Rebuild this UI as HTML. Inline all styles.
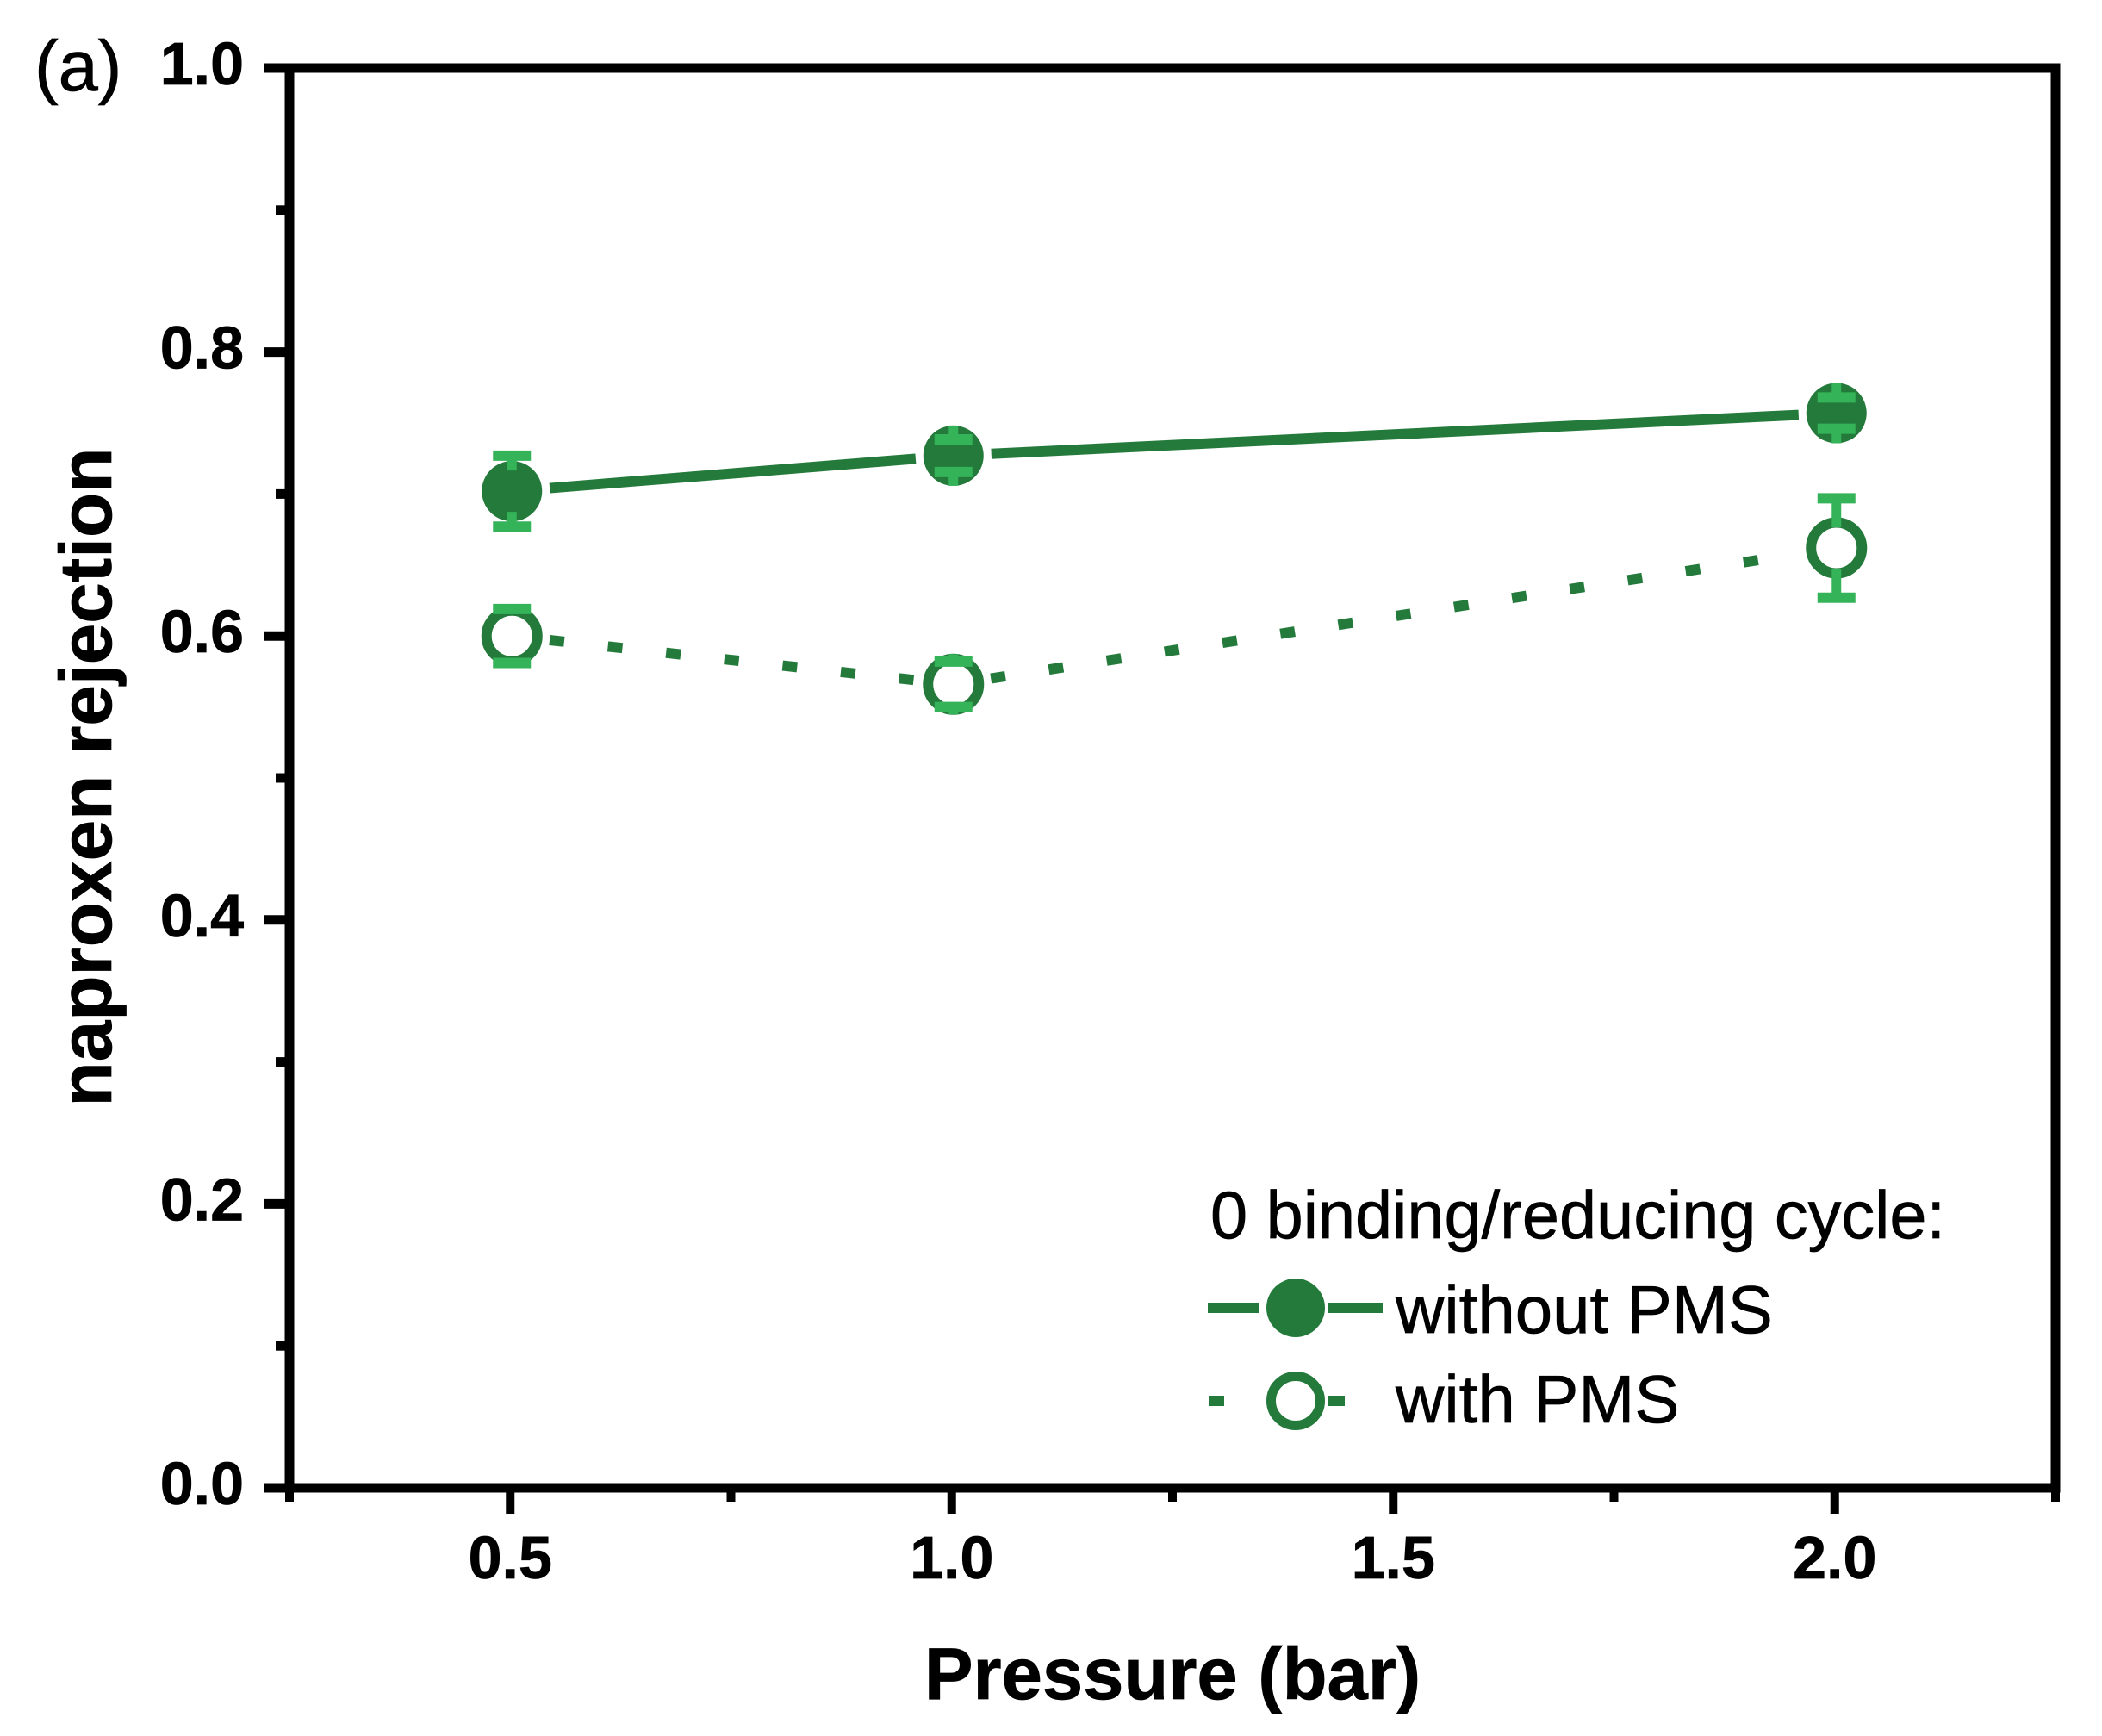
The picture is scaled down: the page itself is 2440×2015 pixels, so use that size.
<!DOCTYPE html>
<html lang="en">
<head>
<meta charset="utf-8">
<title>Naproxen rejection vs pressure</title>
<style>
html,body{margin:0;padding:0;background:#fff;width:2440px;height:2015px;overflow:hidden}
svg{display:block}
text{font-family:"Liberation Sans",Arial,sans-serif;fill:#000;stroke:#000;stroke-width:.7px}
</style>
</head>
<body>
<svg id="chart" xmlns="http://www.w3.org/2000/svg" width="2440" height="2015" viewBox="0 0 2440 2015">
<rect width="2440" height="2015" fill="#fff"/>
<text x="40" y="105" font-size="83">(a)</text>
<text x="1361" y="1972" font-size="85" font-weight="bold" text-anchor="middle">Pressure (bar)</text>
<text transform="translate(129 902) rotate(-90)" font-size="85.5" font-weight="bold" text-anchor="middle">naproxen rejection</text>
<g id="axes"></g>
<g id="marks"></g>
<g id="legend">
<text x="1405" y="1437" font-size="77.5">0 binding/reducing cycle:</text>
<line x1="1402" y1="1518" x2="1462" y2="1518" stroke="#247a3b" stroke-width="12"/>
<line x1="1542" y1="1518" x2="1605" y2="1518" stroke="#247a3b" stroke-width="12"/>
<circle cx="1504" cy="1518" r="34" fill="#247a3b"/>
<text x="1620" y="1547" font-size="78">without PMS</text>
<line x1="1403" y1="1626" x2="1421" y2="1626" stroke="#247a3b" stroke-width="12"/>
<line x1="1542" y1="1626" x2="1561" y2="1626" stroke="#247a3b" stroke-width="12"/>
<circle cx="1504" cy="1626" r="28.5" fill="#fff" stroke="#247a3b" stroke-width="11"/>
<text x="1620" y="1651" font-size="78">with PMS</text>
</g>
</svg>
<script>
const pressures = [0.5, 1.0, 2.0];
const withoutPms = [0.702, 0.727, 0.757];
const withoutPmsErr = [0.025, 0.0115, 0.011];
const withPms = [0.6, 0.566, 0.662];
const withPmsErr = [0.019, 0.016, 0.035];
const xMajorTicks = [0.5, 1.0, 1.5, 2.0];
const xMinorTicks = [0.25, 0.75, 1.25, 1.75, 2.25];
const yMajorTicks = [0.0, 0.2, 0.4, 0.6, 0.8, 1.0];
const yMinorTicks = [0.1, 0.3, 0.5, 0.7, 0.9];

const X0 = 336, X1 = 2386, XMIN = 0.25, XMAX = 2.25;
const Y0 = 1727, Y1 = 79, YMIN = 0, YMAX = 1;
const DARK = '#247a3b', LIGHT = '#35b358', R = 35, GAP = 44, MARK_DX = 2;
const NS = 'http://www.w3.org/2000/svg';
const sx = v => X0 + (v - XMIN) / (XMAX - XMIN) * (X1 - X0);
const mx = v => sx(v) + MARK_DX;
const sy = v => Y0 - (v - YMIN) / (YMAX - YMIN) * (Y0 - Y1);

function mk(parent, tag, attrs) {
  const el = document.createElementNS(NS, tag);
  for (const k in attrs) el.setAttribute(k, attrs[k]);
  parent.appendChild(el);
  return el;
}

const axes = document.getElementById('axes');
const marks = document.getElementById('marks');

// plot frame
const frame = mk(axes, 'rect', {x: X0, y: Y1, width: X1 - X0, height: Y0 - Y1, fill: 'none', stroke: '#000', 'stroke-width': 11});



xMajorTicks.forEach(v => {
  const t = mk(axes, 'line', {x1: sx(v), x2: sx(v), y1: Y0, y2: Y0 + 30, stroke: '#000', 'stroke-width': 10});
  
  
  const l = mk(axes, 'text', {x: sx(v), y: 1832, 'font-size': 70, 'font-weight': 'bold', 'text-anchor': 'middle'});
  
  
  l.textContent = v.toFixed(1);
});
xMinorTicks.forEach(v => {
  const t = mk(axes, 'line', {x1: sx(v), x2: sx(v), y1: Y0, y2: Y0 + 16, stroke: '#000', 'stroke-width': 10});
  
  
});
yMajorTicks.forEach(v => {
  const t = mk(axes, 'line', {x1: X0, x2: 306, y1: sy(v), y2: sy(v), stroke: '#000', 'stroke-width': 11});
  
  
  const l = mk(axes, 'text', {x: 283, y: sy(v) + 19, 'font-size': 70, 'font-weight': 'bold', 'text-anchor': 'end'});
  
  
  l.textContent = v.toFixed(1);
});
yMinorTicks.forEach(v => {
  const t = mk(axes, 'line', {x1: X0, x2: 320, y1: sy(v), y2: sy(v), stroke: '#000', 'stroke-width': 11});
  
  
});

function drawSegments(values, dashed, name) {
  for (let i = 0; i < values.length - 1; i++) {
    const ax = mx(pressures[i]), ay = sy(values[i]);
    const bx = mx(pressures[i + 1]), by = sy(values[i + 1]);
    const len = Math.hypot(bx - ax, by - ay);
    const ux = (bx - ax) / len, uy = (by - ay) / len;
    const seg = mk(marks, 'line', {
      x1: ax + ux * GAP, y1: ay + uy * GAP, x2: bx - ux * GAP, y2: by - uy * GAP,
      stroke: DARK, 'stroke-width': 12
    });
    if (dashed) seg.setAttribute('stroke-dasharray', '17 51');
    
    
  }
}

function drawErrors(values, errs, name) {
  values.forEach((v, i) => {
    const cx = mx(pressures[i]), cy = sy(v);
    const upper = sy(v + errs[i]), lower = sy(v - errs[i]);
    const reach = cy - upper;
    const stemStart = reach > R ? 24 : R;
    const s1 = mk(marks, 'line', {x1: cx, x2: cx, y1: cy - stemStart, y2: upper, stroke: LIGHT, 'stroke-width': 11});
    
    
    const s2 = mk(marks, 'line', {x1: cx, x2: cx, y1: cy + stemStart, y2: lower, stroke: LIGHT, 'stroke-width': 11});
    
    
    const c1 = mk(marks, 'line', {x1: cx - 22, x2: cx + 22, y1: upper, y2: upper, stroke: LIGHT, 'stroke-width': 12});
    
    
    const c2 = mk(marks, 'line', {x1: cx - 22, x2: cx + 22, y1: lower, y2: lower, stroke: LIGHT, 'stroke-width': 12});
    
    
  });
}

drawSegments(withoutPms, false, 'line-without-pms');
drawSegments(withPms, true, 'line-with-pms');

withoutPms.forEach((v, i) => {
  const m = mk(marks, 'circle', {cx: mx(pressures[i]), cy: sy(v), r: R, fill: DARK});
  
  
});
withPms.forEach((v, i) => {
  const m = mk(marks, 'circle', {cx: mx(pressures[i]), cy: sy(v), r: R - 5.5, fill: '#fff', stroke: DARK, 'stroke-width': 12});
  
  
});

drawErrors(withoutPms, withoutPmsErr, 'error-without-pms');
drawErrors(withPms, withPmsErr, 'error-with-pms');
</script>
</body>
</html>
